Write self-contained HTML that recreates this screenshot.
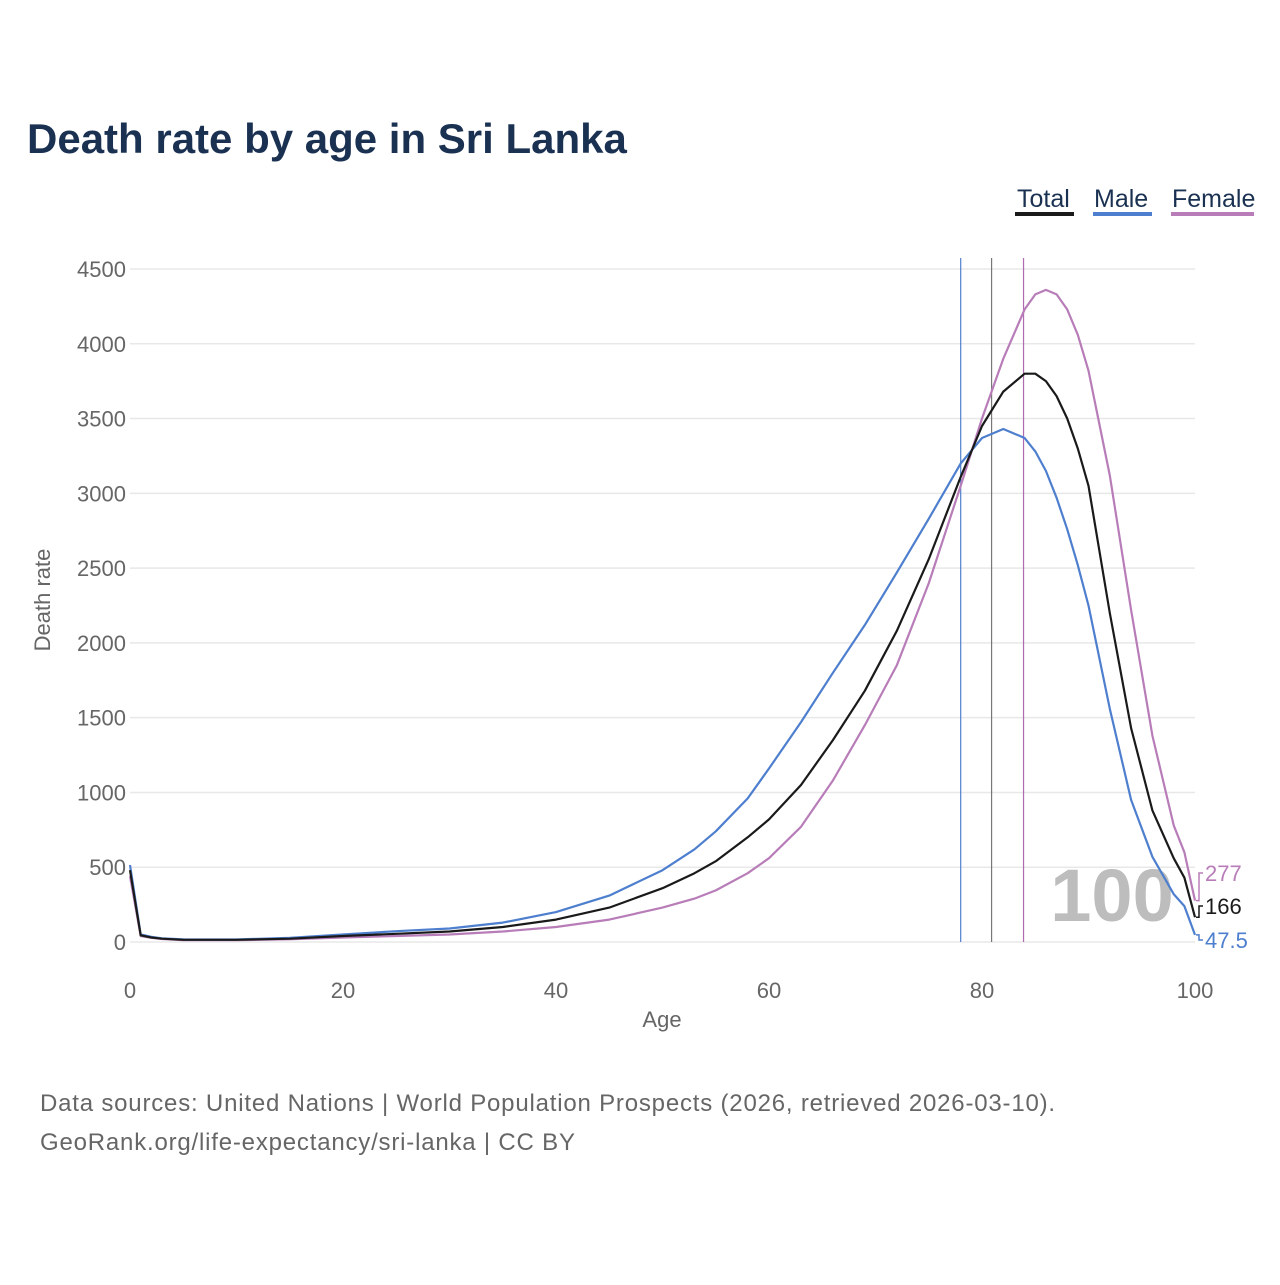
<!DOCTYPE html>
<html><head><meta charset="utf-8"><style>
body{margin:0;background:#fff;font-family:"Liberation Sans",sans-serif}
svg text{font-family:"Liberation Sans",sans-serif}
</style></head><body>
<svg id="chart" width="1280" height="1280" viewBox="0 0 1280 1280" xmlns="http://www.w3.org/2000/svg">
<rect width="1280" height="1280" fill="#fff"/>
<text x="27" y="153" font-size="42" font-weight="bold" fill="#1a3152">Death rate by age in Sri Lanka</text>
<g font-size="25">
<g><text x="1017" y="207" fill="#1a3152">Total</text><rect x="1015" y="212" width="59" height="4" fill="#1a1a1a"/></g>
<g><text x="1094" y="207" fill="#1a3152">Male</text><rect x="1093" y="212" width="59" height="4" fill="#4e7fce"/></g>
<g><text x="1172" y="207" fill="#1a3152">Female</text><rect x="1171" y="212" width="83" height="4" fill="#b87db8"/></g>
</g>
<g id="grid"></g>
<g id="yticks" font-size="22" fill="#666" text-anchor="end"></g>
<g id="xticks" font-size="22" fill="#666" text-anchor="middle"></g>
<text x="662" y="1027" font-size="22" fill="#666" text-anchor="middle">Age</text>
<text transform="translate(50,600) rotate(-90)" font-size="22" fill="#666" text-anchor="middle">Death rate</text>
<text x="1112" y="921" font-size="74" font-weight="bold" fill="#bdbdbd" text-anchor="middle">100</text>
<g id="medians"></g>
<g id="series"></g>
<g id="endlabels" font-size="22"></g>
<text x="40" y="1111" font-size="24" letter-spacing="0.8" fill="#666">Data sources: United Nations | World Population Prospects (2026, retrieved 2026-03-10).</text>
<text x="40" y="1150" font-size="24" letter-spacing="0.8" fill="#666">GeoRank.org/life-expectancy/sri-lanka | CC BY</text>
</svg>
<script>
const ages=[0,1,2,3,5,10,15,20,25,30,35,40,45,50,53,55,58,60,63,66,69,72,75,78,80,82,84,85,86,87,88,89,90,92,94,96,98,99,100];
const male=[515,50,35,25,18,17,28,50,72,90,130,200,310,480,620,740,960,1160,1470,1800,2120,2470,2830,3200,3370,3430,3370,3280,3150,2970,2760,2520,2250,1560,950,570,320,240,47.5];
const total=[480,45,30,22,15,15,22,40,55,70,100,150,230,360,460,540,700,820,1050,1350,1680,2080,2560,3110,3450,3680,3800,3800,3750,3650,3500,3300,3050,2200,1430,880,560,430,166];
const female=[440,40,28,20,13,12,18,30,40,50,70,100,150,230,290,345,460,560,770,1080,1450,1850,2400,3050,3500,3900,4230,4330,4360,4330,4230,4060,3820,3120,2220,1380,780,600,277];
const yTicks=[0,500,1000,1500,2000,2500,3000,3500,4000,4500];
const xTicks=[0,20,40,60,80,100];
const medianAges=[78.0,80.9,83.9];
const medianColors=["#4e7fce","#777","#b06ab0"];
const NS="http://www.w3.org/2000/svg";
const xs=a=>130+a*10.65;
const ys=v=>942-v*0.14956;
function mk(t,attrs,parent){const e=document.createElementNS(NS,t);for(const k in attrs)e.setAttribute(k,attrs[k]);parent.appendChild(e);return e;}
const grid=document.getElementById('grid'),yt=document.getElementById('yticks'),xt=document.getElementById('xticks');
yTicks.forEach(v=>{
 const l=mk('line',{x1:130,x2:1195,y1:ys(v),y2:ys(v),stroke:'#e8e8e8','stroke-width':1.5},grid);
 
 
 const t=mk('text',{x:126,y:ys(v)+8},yt);t.textContent=v;
 
 
});
xTicks.forEach(v=>{
 const t=mk('text',{x:xs(v),y:998},xt);t.textContent=v;
 
 
});
const med=document.getElementById('medians');
medianAges.forEach((a,i)=>{
 const l=mk('line',{x1:xs(a),x2:xs(a),y1:258,y2:942,stroke:medianColors[i],'stroke-width':1.2},med);
 
 
});
const ser=document.getElementById('series');
[[male,'#4e7fce','male-line'],[female,'#b87db8','female-line'],[total,'#1a1a1a','total-line']].forEach(([d,c,n])=>{
 const p=mk('path',{d:d.map((v,i)=>(i?'L':'M')+xs(ages[i]).toFixed(1)+','+ys(v).toFixed(1)).join(''),fill:'none',stroke:c,'stroke-width':2.2,'stroke-linejoin':'round'},ser);
 
 
});
const el=document.getElementById('endlabels');
const last=ages.length-1;
[[female[last],'#b87db8',873,'female-end-label'],[total[last],'#1a1a1a',906,'total-end-label'],[male[last],'#4e7fce',940,'male-end-label']].forEach(([v,c,ly,n])=>{
 const y0=ys(v);
 const p=mk('path',{d:`M1196,${y0.toFixed(1)} L1199,${y0.toFixed(1)} L1199,${ly} L1203,${ly}`,fill:'none',stroke:c,'stroke-width':1.5},el);
 
 
 const t=mk('text',{x:1205,y:ly+8,fill:c},el);t.textContent=v;
 
 
});
</script>
</body></html>
